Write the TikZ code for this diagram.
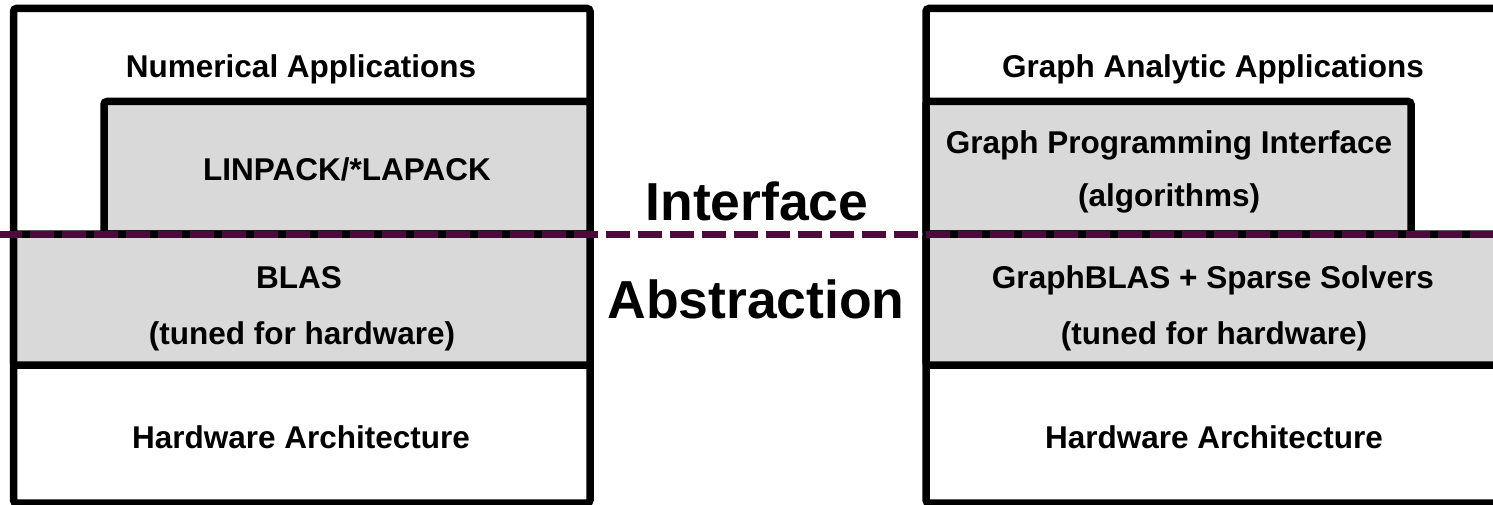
\documentclass[tikz,border=0pt]{standalone}
\usepackage{fontspec}
\setmainfont{Liberation Sans}
\definecolor{layergray}{HTML}{D9D9D9}
\definecolor{ifpurple}{RGB}{75,12,60}
\begin{document}
\begin{tikzpicture}[x=1pt,y=-1pt,
  frame/.style={draw=black, line width=7.5pt, rounded corners=3pt},
  layer/.style={frame, fill=layergray},
  lbl/.style={font=\bfseries\fontsize{31.5}{34}\selectfont, inner sep=0pt, anchor=base},
  big/.style={font=\bfseries\fontsize{53.5}{60}\selectfont, inner sep=0pt, anchor=base},
  ifline/.style={draw=ifpurple, line width=7pt, dash pattern=on 23.5pt off 8.5pt, dash phase=2pt}]
\useasboundingbox (0,0) rectangle (1493,505);
\clip (0,0) rectangle (1493,505);

% left stack: numerical software
\draw[frame, fill=white] (13.5,8.5) rectangle (590,503);
\draw[layer] (104,101.5) rectangle (590,234);
\draw[layer] (13.5,234) rectangle (590,365);

% right stack: graph software
\draw[frame, fill=white] (926,8.5) rectangle (1510,503);
\draw[layer] (926,101.5) rectangle (1411,234);
\draw[layer] (926,234) rectangle (1510,365);

% interface / abstraction boundary
\coordinate (ifL) at (0,234);
\coordinate (ifR) at (1493,234);
\draw[ifline] (ifL) -- (ifR);

% labels, left
\node[lbl] (numapp) at (301,78) {Numerical Applications};
\node[lbl] (linpack) at (347,181) {LINPACK/*LAPACK};
\node[lbl] (blas) at (299,288) {BLAS};
\node[lbl] (tunedL) at (302,344) {(tuned for hardware)};
\node[lbl] (hwL) at (301,448) {Hardware Architecture};

% labels, right
\node[lbl] (graphapp) at (1213,78) {Graph Analytic Applications};
\node[lbl] (gpi) at (1169,154) {Graph Programming Interface};
\node[lbl] (algs) at (1169,207) {(algorithms)};
\node[lbl] (gblas) at (1213,288) {GraphBLAS + Sparse Solvers};
\node[lbl] (tunedR) at (1214,344) {(tuned for hardware)};
\node[lbl] (hwR) at (1214,448) {Hardware Architecture};

% centre caption
\node[big] (iface) at (757,221) {Interface};
\node[big] (abstr) at (756,318) {Abstraction};
\end{tikzpicture}
\end{document}
